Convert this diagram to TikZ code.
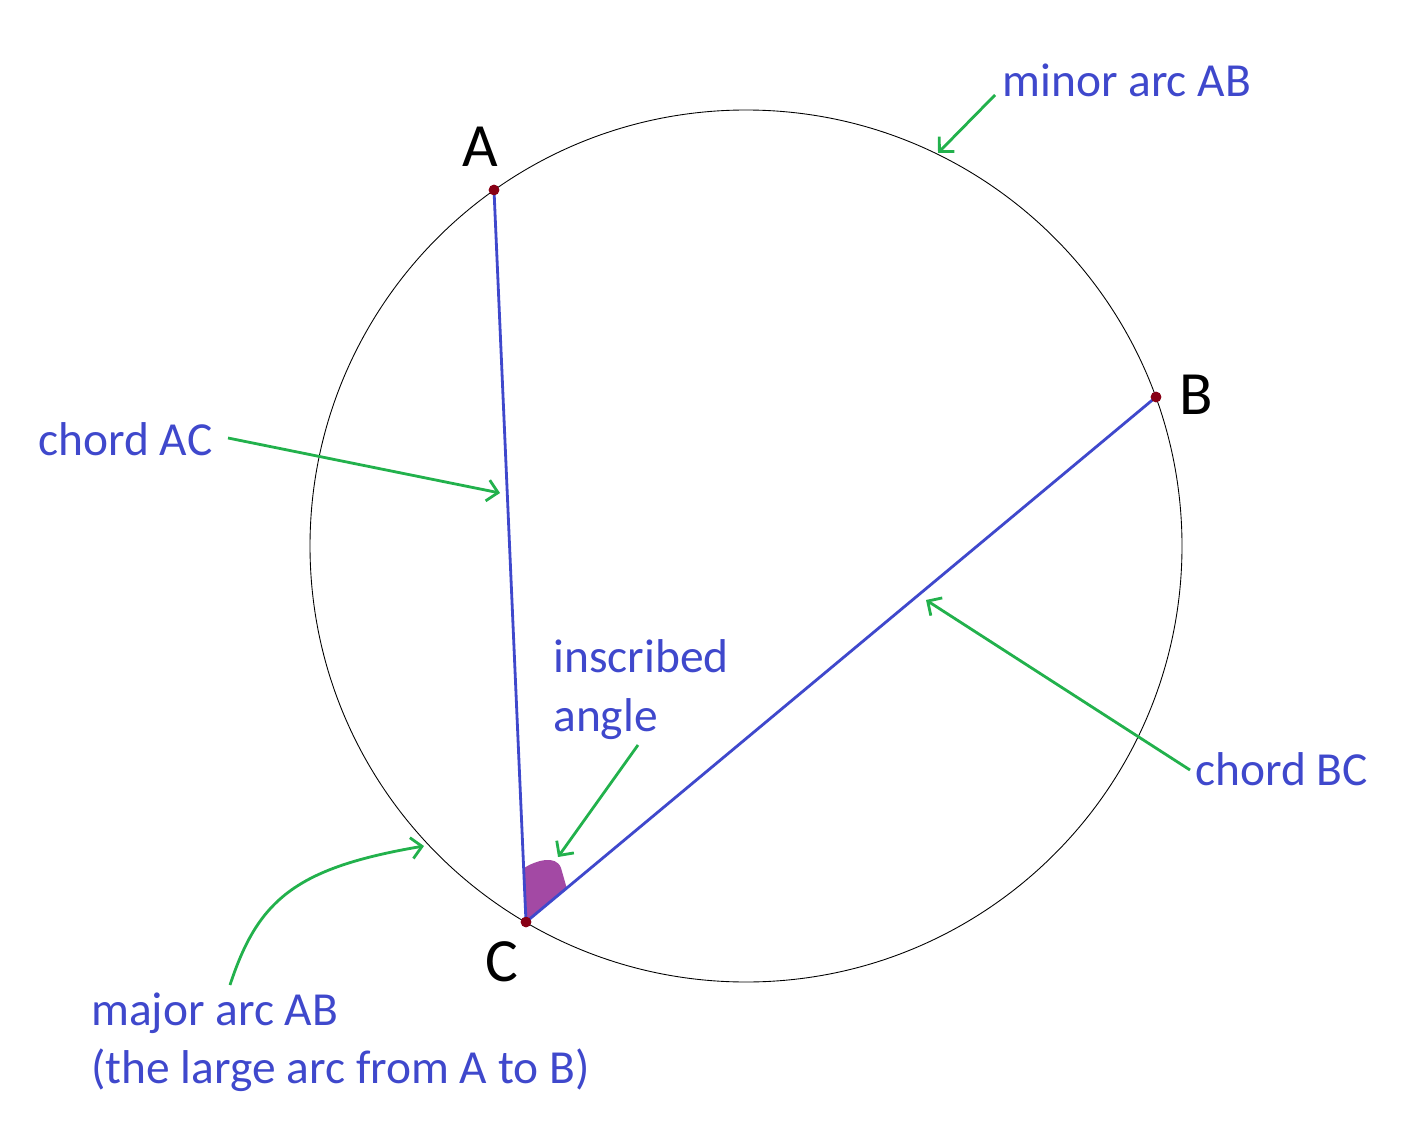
\documentclass[tikz,border=0pt]{standalone}
\usepackage{fontspec}
\setmainfont{Carlito}
\usetikzlibrary{shapes,arrows,arrows.meta}
\definecolor{txtblue}{RGB}{63,72,204}
\definecolor{arrgreen}{RGB}{34,177,76}
\definecolor{dotred}{RGB}{136,0,21}
\definecolor{angpurple}{RGB}{163,73,164}
\tikzstyle{line} = [draw, txtblue, line width=1.6pt]
\tikzstyle{pointer} = [draw, arrgreen, line width=1.6pt, -{Straight Barb[length=6pt,width=12pt]}]
\tikzstyle{lbl} = [text=txtblue, font=\fontsize{27}{33}\selectfont, anchor=base west, inner sep=0pt]
\tikzstyle{vtx} = [text=black, font=\fontsize{35}{40}\selectfont, inner sep=0pt]
\tikzstyle{dot} = [circle, fill=dotred, inner sep=0pt, minimum size=6pt]

\begin{document}
\begin{tikzpicture}[x=0.02cm, y=-0.02cm]
    \useasboundingbox (0,0) rectangle (1415,1131);
    \draw [black, line width=0.5pt] (746,546) circle (436);
    \fill [angpurple] (526,922) -- (524,868) .. controls (535,861) and (556,854) .. (561,868) -- (567,889) -- cycle;
    \node [dot] (ptA) at (494,190) {};
    \node [dot] (ptB) at (1156,397) {};
    \node [dot] (ptC) at (526,922) {};
    \path [line] (ptA.center) -- (ptC.center);
    \path [line] (ptC.center) -- (ptB.center);
    \node [dot] at (ptA) {};
    \node [dot] at (ptB) {};
    \node [dot] at (ptC) {};
    \node [vtx] (labA) at (480,147) {A};
    \node [vtx] (labB) at (1196,395) {B};
    \node [vtx] (labC) at (502,962) {C};
    \node [lbl] (minor) at (1002,97) {minor arc AB};
    \node [lbl] (chordAC) at (38,455) {chord AC};
    \node [lbl] (inscr) at (553,672) {inscribed};
    \node [lbl] (angl) at (553,731) {angle};
    \node [lbl] (chordBC) at (1195,785) {chord BC};
    \node [lbl] (major) at (91,1025) {major arc AB};
    \node [lbl] (major2) at (91,1083) {(the large arc from A to B)};
    \coordinate (minorS) at (995,95);
    \coordinate (minorE) at (938,153);
    \coordinate (acS) at (228,438);
    \coordinate (acE) at (500,493);
    \coordinate (angS) at (638,745);
    \coordinate (angE) at (558,857);
    \coordinate (bcS) at (1190,770);
    \coordinate (bcE) at (926,600);
    \coordinate (majS) at (230,985);
    \coordinate (majE) at (424,846);
    \path [pointer] (minorS) -- (minorE);
    \path [pointer] (acS) -- (acE);
    \path [pointer] (angS) -- (angE);
    \path [pointer] (bcS) -- (bcE);
    \path [pointer] (majS) .. controls (258,900) and (295,868) .. (majE);
\end{tikzpicture}
\end{document}
